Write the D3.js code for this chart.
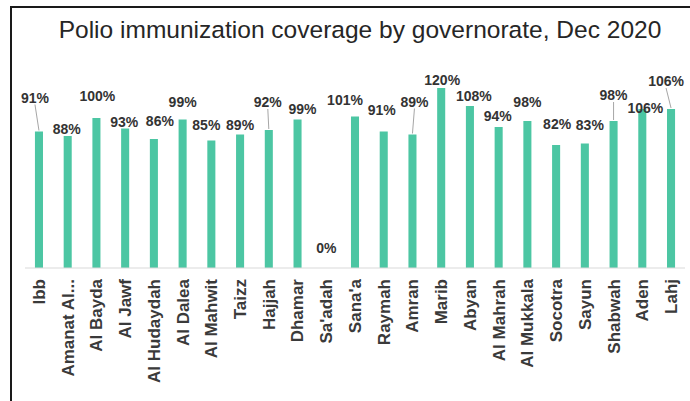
<!DOCTYPE html>
<html lang="en">
<meta charset="utf-8">
<script src="https://d3js.org/d3.v7.min.js"></script>
<head>
    <style type="text/css">
        body { margin: 0; background: white; }
        .title {
            font-family: "Liberation Sans", Arial, sans-serif;
            font-size: 26px;
            fill: #262626;
        }
        .value {
            font-family: "Liberation Sans", Arial, sans-serif;
            font-size: 14px;
            font-weight: bold;
            fill: #333;
        }
        .cat text {
            font-family: "Liberation Sans", Arial, sans-serif;
            font-size: 17px;
            font-weight: bold;
            fill: #3a3a3a;
        }
    </style>
</head>
<body>
    <div id="chart"></div>
    <script>

        // governorates and coverage (%)
        const governorates = ["Ibb", "Amanat Al...", "Al Bayda", "Al Jawf", "Al Hudaydah", "Al Dalea",
            "Al Mahwit", "Taizz", "Hajjah", "Dhamar", "Sa'adah", "Sana'a", "Raymah", "Amran", "Marib",
            "Abyan", "Al Mahrah", "Al Mukkala", "Socotra", "Sayun", "Shabwah", "Aden", "Lahj"];
        const coverage = [91, 88, 100, 93, 86, 99, 85, 89, 92, 99, 0, 101, 91, 89, 120,
            108, 94, 98, 82, 83, 98, 106, 106];

        const W = 690, H = 401;

        const svg = d3.select("#chart")
            .append("svg")
            .attr("width", W)
            .attr("height", H);

        // frame
        svg.append("rect")
            .attr("x", 11).attr("y", 7)
            .attr("width", W + 20).attr("height", H + 20)
            .attr("fill", "none")
            .attr("stroke", "#1a1a1a")
            .attr("stroke-width", 2);

        const title = svg.append("text")
            .attr("class", "title")
            .attr("x", 360)
            .attr("y", 38)
            .attr("text-anchor", "middle")
            .text("Polio immunization coverage by governorate, Dec 2020");
        // fit the title to the width it has in the original
        const tw = title.node().getComputedTextLength();
        title.style("font-size", (26 * 603 / tw) + "px");

        const x = d3.scaleBand()
            .domain(governorates)
            .range([24.6, 685.4])
            .paddingInner(0.72)
            .paddingOuter(0.36);

        const y = d3.scaleLinear()
            .domain([0, 120])
            .range([268, 88]);

        // bars
        svg.selectAll("rect.bar")
            .data(governorates)
            .join("rect")
            .attr("class", "bar")
            .attr("x", d => x(d))
            .attr("y", (d, i) => y(coverage[i]))
            .attr("width", x.bandwidth())
            .attr("height", (d, i) => y(0) - y(coverage[i]))
            .attr("fill", "#4cc6a3");

        // category axis
        const ax = svg.append("g")
            .attr("class", "cat")
            .attr("transform", `translate(0, ${y(0)})`)
            .call(d3.axisBottom(x).tickSize(0).tickPadding(0));
        ax.select(".domain")
            .attr("d", "M25,0H685")
            .attr("stroke", "#d9d9d9");
        ax.selectAll("text")
            .attr("transform", "translate(0,11) rotate(-90)")
            .attr("dy", "0.35em")
            .attr("x", 0).attr("y", 0)
            .style("text-anchor", "end");

        // data label nudges (dx, dy of label centre from bar top), as placed in the original
        const nudge = [[-4, -34], [-1, -7], [1, -22], [-1, -7], [6, -18], [0, -18], [-5, -16], [0, -10],
            [-1, -28], [5, -11], [0, -20], [-10, -17], [-2, -22], [2, -33], [1, -8],
            [4, -10], [-1, -11], [0, -19], [1, -21], [5, -19], [0, -26], [3, -1], [-5, -28]];
        const leader = [0, 8, 13, 20, 22];

        const cx = d => x(d) + x.bandwidth() / 2;

        svg.selectAll("line.leader")
            .data(leader)
            .join("line")
            .attr("class", "leader")
            .attr("x1", i => cx(governorates[i]) + nudge[i][0])
            .attr("y1", i => y(coverage[i]) + nudge[i][1] + 7)
            .attr("x2", i => cx(governorates[i]))
            .attr("y2", i => y(coverage[i]) - 1)
            .attr("stroke", "#a6a6a6")
            .attr("stroke-width", 1);

        svg.selectAll("text.value")
            .data(governorates)
            .join("text")
            .attr("class", "value")
            .attr("x", (d, i) => cx(d) + nudge[i][0])
            .attr("y", (d, i) => y(coverage[i]) + nudge[i][1])
            .attr("dy", "0.36em")
            .attr("text-anchor", "middle")
            .text((d, i) => coverage[i] + "%");

    </script>
</body>
</html>
